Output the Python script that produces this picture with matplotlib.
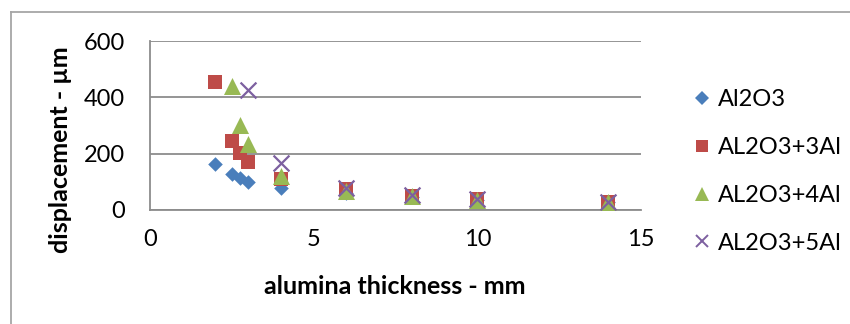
import matplotlib
matplotlib.use("Agg")
import matplotlib.pyplot as plt
from matplotlib.lines import Line2D

plt.rcParams['font.family'] = ['Lato', 'DejaVu Sans']

thickness = [2, 2.5, 2.75, 3, 4, 6, 8, 10, 14]
al2o3 = [164, 128, 113, 99, 78, 62, 45, 35, 27]
al2o3_3al = [456, 246, 202, 172, 110, 75, 50, 40, 30]
thickness_4al = [2.5, 2.75, 3, 4, 6, 8, 10, 14]
al2o3_4al = [440, 303, 236, 122, 66, 48, 37, 28]
thickness_5al = [3, 4, 6, 8, 10, 14]
al2o3_5al = [426, 167, 78, 52, 40, 30]

series_names = ["Al2O3", "AL2O3+3Al", "AL2O3+4Al", "AL2O3+5Al"]
x_ticks = [0, 5, 10, 15]
y_ticks = [0, 200, 400, 600]

W, H = 850, 324
fig = plt.figure(figsize=(W / 100, H / 100), dpi=100)
ax = fig.add_axes([150 / W, 1 - 210 / H, (641 - 150) / W, (210 - 41) / H])

ax.scatter(thickness, al2o3, marker='D', s=55, color='#4a7ebb', zorder=3, linewidths=0)
ax.scatter(thickness, al2o3_3al, marker='s', s=110, color='#be4b48', zorder=4, linewidths=0)
ax.scatter(thickness_4al, al2o3_4al, marker='^', s=150, color='#98b954', zorder=5, linewidths=0)
ax.scatter(thickness_5al, al2o3_5al, marker='x', s=130, color='#7d60a0', zorder=6, linewidths=1.6)

ax.set_xlim(0, 15)
ax.set_ylim(0, 600)
ax.set_xticks(x_ticks)
ax.set_yticks(y_ticks)
ax.tick_params(axis='both', length=0, labelsize=17, colors='black')
ax.tick_params(axis='x', pad=14)
ax.tick_params(axis='y', pad=18)
ax.grid(axis='y', color='#8c8c8c', linewidth=1.3)
ax.set_axisbelow(True)
for side in ['top', 'right']:
    ax.spines[side].set_visible(False)
for side in ['left', 'bottom']:
    ax.spines[side].set_color('#8c8c8c')
    ax.spines[side].set_linewidth(1.3)

fig.text(395 / W, 1 - 287 / H, "alumina thickness - mm", ha='center', va='center', fontsize=18, fontweight='bold')
fig.text(61 / W, 1 - 150 / H, "displacement - µm", ha='center', va='center', fontsize=18, fontweight='bold', rotation=90)

handles = [
    Line2D([], [], marker='D', linestyle='', color='#4a7ebb', markersize=7, markeredgewidth=0),
    Line2D([], [], marker='s', linestyle='', color='#be4b48', markersize=9, markeredgewidth=0),
    Line2D([], [], marker='^', linestyle='', color='#98b954', markersize=10, markeredgewidth=0),
    Line2D([], [], marker='x', linestyle='', color='#7d60a0', markersize=9, markeredgewidth=1.4),
]
fig.legend(handles, series_names, loc='upper left', bbox_to_anchor=(694 / W, 1 - 89 / H),
           frameon=False, fontsize=17, handlelength=0.7, handletextpad=0.3, labelspacing=1.14,
           borderaxespad=0, borderpad=0)

# chart-area border
fig.add_artist(Line2D([11 / W, 11 / W], [0, 1 - 12 / H], transform=fig.transFigure, color='#a6a6a6', linewidth=1.3))
fig.add_artist(Line2D([11 / W, 1], [1 - 12 / H, 1 - 12 / H], transform=fig.transFigure, color='#a6a6a6', linewidth=1.3))

fig.savefig("out.png", dpi=100)
